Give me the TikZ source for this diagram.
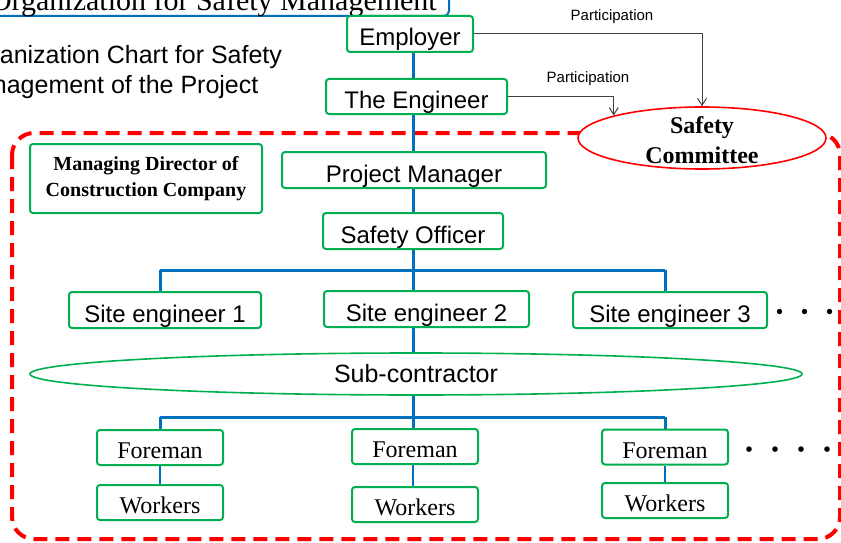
\documentclass[tikz,border=0pt]{standalone}
\usepackage{fontspec}
\setmainfont{Liberation Sans}
\newfontfamily\timesfont{Liberation Serif}
\newfontfamily\cjk{Noto Sans CJK JP}
\usetikzlibrary{shapes.geometric,arrows.meta}
\definecolor{boxgreen}{HTML}{00B050}
\definecolor{lineblue}{HTML}{0070C0}
\definecolor{partgray}{HTML}{404040}
\tikzset{
  greenbox/.style={draw=boxgreen,line width=2pt,rounded corners=3pt,fill=white,inner sep=0pt,minimum height=36pt,text height=24pt,text depth=0pt,font=\fontsize{24}{28}\selectfont},
  serifbox/.style={greenbox,minimum width=126pt,minimum height=35pt,text height=22pt,font=\timesfont\fontsize{24}{28}\selectfont},
  bluelink/.style={draw=lineblue,line width=3pt},
  thinlink/.style={draw=lineblue,line width=2.2pt},
  partlink/.style={draw=partgray,line width=1pt,-{Straight Barb[length=7pt,width=9pt]}},
  partlabel/.style={inner sep=0pt,font=\fontsize{15}{18}\selectfont},
  dotrow/.style={inner sep=0pt,font=\cjk\fontsize{25}{25}\selectfont}
}
\begin{document}
\begin{tikzpicture}[x=1pt,y=-1pt]
  \fill[white] (0,0) rectangle (841,543);
  \useasboundingbox (0,0) rectangle (841,543);
  \draw[lineblue,line width=2pt,rounded corners=5pt] (-30,-40) rectangle (449,16);
  \node[anchor=base east,inner sep=0pt,font=\timesfont\fontsize{30}{34}\selectfont] (orgtitle) at (437,11) {Organization for Safety Management};
  \node[anchor=west,align=left,inner sep=0pt,font=\fontsize{25}{30}\selectfont] (charttitle) at (-42,72) {Organization Chart for Safety\\Management of the Project};
  \draw[red,line width=4pt,dash pattern=on 14pt off 8pt,rounded corners=22pt] (12,133) rectangle (840,539);

  \node[greenbox,minimum width=126pt] (emp) at (410,34) {Employer};
  \node[greenbox,minimum width=181pt,minimum height=35pt] (eng) at (416.5,96.5) {The Engineer};
  \node[greenbox,minimum width=264pt] (pm) at (414,170) {Project Manager};
  \node[greenbox,minimum width=180pt] (so) at (413,231) {Safety Officer};
  \node[greenbox,minimum width=232pt,minimum height=69pt,text height=,text depth=,align=center,font=\timesfont\bfseries\fontsize{20}{26}\selectfont] (md) at (146,178.5) {Managing Director of\\Construction Company};
  \node[ellipse,draw=red,line width=1.6pt,fill=white,minimum width=248pt,minimum height=62pt] (sc) at (702,138) {};
  \node[align=center,inner sep=0pt,font=\timesfont\bfseries\fontsize{24}{30}\selectfont] (sctext) at (702,140) {Safety\\Committee};

  \node[greenbox,minimum width=192pt] (se1) at (165,310) {Site engineer 1};
  \node[greenbox,minimum width=205pt] (se2) at (426.5,309) {Site engineer 2};
  \node[greenbox,minimum width=194pt] (se3) at (670,310) {Site engineer 3};
  \node[dotrow] (dots1) at (805,315) {・・・};
  \node[ellipse,draw=boxgreen,line width=1.6pt,fill=white,minimum width=772pt,minimum height=42pt,inner sep=0pt,font=\fontsize{25}{28}\selectfont] (sub) at (416,374) {Sub-contractor};

  \node[serifbox] (fm1) at (160,447.5) {Foreman};
  \node[serifbox] (fm2) at (415,446.5) {Foreman};
  \node[serifbox] (fm3) at (665,447) {Foreman};
  \node[serifbox] (wk1) at (160,502.5) {Workers};
  \node[serifbox] (wk2) at (415,504.5) {Workers};
  \node[serifbox] (wk3) at (665,500.5) {Workers};
  \node[dotrow,font=\cjk\fontsize{26}{26}\selectfont] (dots2) at (788,453) {・・・・};

  \coordinate (spine) at (413,270);
  \coordinate (busL) at (160,270);
  \coordinate (busR) at (665,270);
  \coordinate (spinelow) at (413,417);
  \coordinate (lowL) at (160,417);
  \coordinate (lowR) at (665,417);

  \draw[bluelink] (emp.south -| spine) -- (eng.north -| spine);
  \draw[bluelink] (eng.south -| spine) -- (pm.north -| spine);
  \draw[bluelink] (pm.south -| spine) -- (so.north -| spine);
  \draw[bluelink] (so.south -| spine) -- (spine);
  \draw[bluelink] (busL) -- (busR);
  \draw[bluelink] (busL) -- (busL |- se1.north);
  \draw[bluelink] (spine) -- (spine |- se2.north);
  \draw[bluelink] (busR) -- (busR |- se3.north);
  \draw[bluelink] (se2.south -| spine) -- (sub.north -| spine);
  \draw[bluelink] (sub.south -| spine) -- (spinelow);
  \draw[bluelink] (lowL) -- (lowR);
  \draw[bluelink] (lowL) -- (lowL |- fm1.north);
  \draw[bluelink] (spinelow) -- (spinelow |- fm2.north);
  \draw[bluelink] (lowR) -- (lowR |- fm3.north);
  \draw[thinlink] (fm1.south -| lowL) -- (wk1.north -| lowL);
  \draw[thinlink] (fm2.south -| spinelow) -- (wk2.north -| spinelow);
  \draw[thinlink] (fm3.south -| lowR) -- (wk3.north -| lowR);

  \draw[partlink] (emp.east) -| (sc.north);
  \draw[partlink] (eng.east) -| (sc.north west);
  \node[partlabel] (part1) at (612,17) {Participation};
  \node[partlabel] (part2) at (588,79) {Participation};
\end{tikzpicture}
\end{document}
